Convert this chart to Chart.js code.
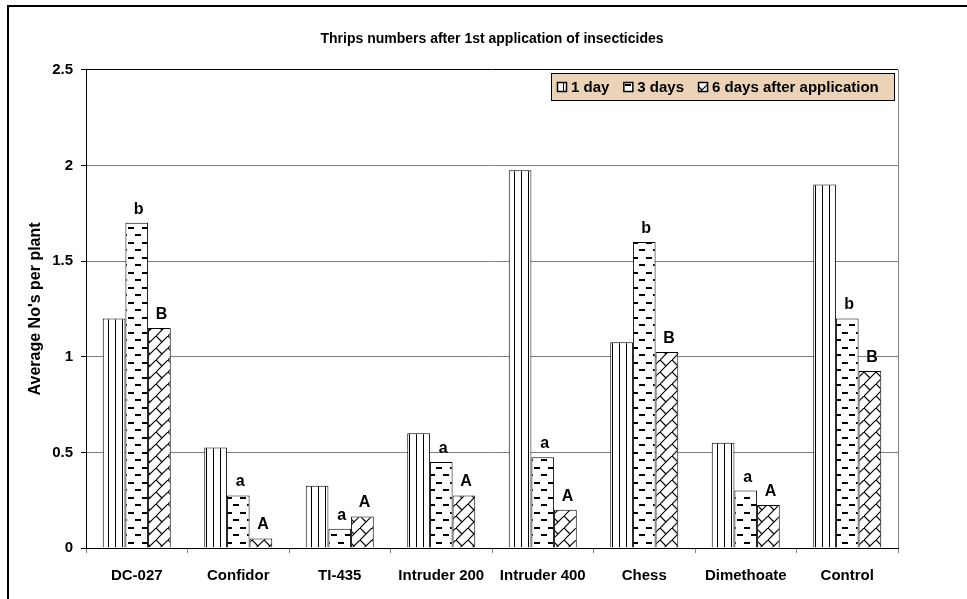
<!DOCTYPE html>
<html>
<head>
<meta charset="utf-8">
<title>Thrips numbers</title>
<script src="https://cdn.jsdelivr.net/npm/chart.js@4.4.1/dist/chart.umd.min.js"></script>
<style>
  html, body { margin: 0; padding: 0; background: #fff; }
  #wrap { position: relative; width: 967px; height: 599px; }
</style>
</head>
<body>
<div id="wrap"><canvas id="thripsChart"></canvas></div>
<script>
const treatments = ["DC-027", "Confidor", "TI-435", "Intruder 200", "Intruder 400", "Chess", "Dimethoate", "Control"];
const oneDay = [1.2, 0.525, 0.325, 0.6, 1.975, 1.075, 0.55, 1.9];
const threeDays = [1.7, 0.275, 0.1, 0.45, 0.475, 1.6, 0.3, 1.2];
const sixDays = [1.15, 0.05, 0.165, 0.275, 0.2, 1.025, 0.225, 0.925];
const threeDayLetters = ["b", "a", "a", "a", "a", "b", "a", "b"];
const sixDayLetters = ["B", "A", "A", "A", "A", "B", "A", "B"];
const seriesNames = ["1 day", "3 days", "6 days after application"];

const FONT = "'Liberation Sans', Arial, sans-serif";
const canvas = document.getElementById("thripsChart");

function makePattern(w, h, draw) {
  const c = document.createElement("canvas");
  c.width = w;
  c.height = h;
  const g = c.getContext("2d");
  g.fillStyle = "#fff";
  g.fillRect(0, 0, w, h);
  g.strokeStyle = "#000";
  g.fillStyle = "#000";
  draw(g);
  return canvas.getContext("2d").createPattern(c, "repeat");
}

// vertical stripes
const stripePattern = makePattern(7, 7, g => {
  g.fillRect(3, 0, 1, 7);
});

// short staggered dashes
const dashPattern = makePattern(14, 15, g => {
  g.fillRect(2, 2, 6, 2);
  g.fillRect(9, 9, 5, 2);
  g.fillRect(0, 9, 1, 2);
});

// diagonal brick
const brickPattern = makePattern(12, 12, g => {
  g.lineWidth = 1.2;
  g.beginPath();
  g.moveTo(-1, 13);
  g.lineTo(13, -1);
  g.moveTo(0, 0);
  g.lineTo(6, 6);
  g.stroke();
});

const patterns = [stripePattern, dashPattern, brickPattern];

const framePlugin = {
  id: "frame",
  beforeDraw(chart) {
    const ctx = chart.ctx;
    ctx.save();
    ctx.fillStyle = "#fff";
    ctx.fillRect(0, 0, chart.width, chart.height);
    ctx.strokeStyle = "#000";
    ctx.lineWidth = 2;
    ctx.beginPath();
    ctx.moveTo(8, chart.height);
    ctx.lineTo(8, 6);
    ctx.lineTo(chart.width, 6);
    ctx.stroke();
    ctx.restore();
  },
  afterDraw(chart) {
    const a = chart.chartArea;
    const ctx = chart.ctx;
    ctx.save();
    ctx.strokeStyle = "#808080";
    ctx.lineWidth = 1;
    ctx.beginPath();
    ctx.moveTo(Math.round(a.right) + 0.5, a.top);
    ctx.lineTo(Math.round(a.right) + 0.5, a.bottom);
    ctx.stroke();
    ctx.restore();
  }
};

const letterPlugin = {
  id: "letters",
  afterDatasetsDraw(chart) {
    const ctx = chart.ctx;
    ctx.save();
    ctx.font = "bold 16px " + FONT;
    ctx.fillStyle = "#000";
    ctx.textAlign = "center";
    ctx.textBaseline = "alphabetic";
    [[1, threeDayLetters], [2, sixDayLetters]].forEach(([idx, letters]) => {
      chart.getDatasetMeta(idx).data.forEach((bar, i) => {
        ctx.fillText(letters[i], bar.x + 2, bar.y - 9);
      });
    });
    ctx.restore();
  }
};

const boxLegendPlugin = {
  id: "boxLegend",
  afterDraw(chart) {
    const ctx = chart.ctx;
    ctx.save();
    ctx.fillStyle = "#EAD3B7";
    ctx.fillRect(551, 73, 344, 27);
    ctx.strokeStyle = "#000";
    ctx.lineWidth = 1;
    ctx.strokeRect(551.5, 73.5, 343, 27);
    ctx.font = "bold 15px " + FONT;
    ctx.textBaseline = "middle";
    let x = 557;
    chart.data.datasets.forEach(ds => {
      ctx.fillStyle = ds.backgroundColor;
      ctx.fillRect(x, 82, 10, 10);
      ctx.lineWidth = 1.5;
      ctx.strokeRect(x + 0.5, 82.5, 9, 9);
      ctx.fillStyle = "#000";
      ctx.fillText(ds.label, x + 14, 87.5);
      x += 14 + ctx.measureText(ds.label).width + 14;
    });
    ctx.restore();
  }
};

new Chart(canvas, {
  type: "bar",
  data: {
    labels: treatments,
    datasets: [oneDay, threeDays, sixDays].map((values, i) => ({
      label: seriesNames[i],
      data: values,
      backgroundColor: patterns[i],
      borderColor: "#000",
      borderWidth: 1,
      barPercentage: 1,
      categoryPercentage: 0.67,
    })),
  },
  options: {
    responsive: true,
    maintainAspectRatio: false,
    devicePixelRatio: 1,
    animation: false,
    layout: { padding: { left: 0, right: 69, top: 0, bottom: 0 } },
    plugins: {
      legend: { display: false },
      tooltip: { enabled: false },
      title: {
        display: true,
        fullSize: false,
        text: "Thrips numbers after 1st application of insecticides",
        color: "#000",
        font: { family: FONT, size: 14, weight: "bold" },
        padding: { top: 31, bottom: 22 },
      },
    },
    scales: {
      x: {
        grid: { offset: true, drawOnChartArea: false, tickLength: 5, tickColor: "#808080" },
        border: { color: "#000" },
        ticks: { color: "#000", font: { family: FONT, size: 15, weight: "bold" }, padding: 14, maxRotation: 0 },
        afterFit: s => { s.height = 51; },
      },
      y: {
        min: 0,
        max: 2.5,
        ticks: {
          stepSize: 0.5,
          color: "#000",
          font: { family: FONT, size: 15, weight: "bold" },
          padding: 8,
          callback: v => String(v),
        },
        grid: {
          color: c => (c.tick && c.tick.value === 2.5 ? "#000" : "#808080"),
          tickColor: "#000",
          tickLength: 5,
        },
        border: { color: "#000" },
        title: {
          display: true,
          text: "Average No's per plant",
          color: "#000",
          font: { family: FONT, size: 16, weight: "bold" },
          padding: { top: 26, bottom: 0 },
        },
        afterFit: s => { s.width = 86; },
      },
    },
  },
  plugins: [framePlugin, letterPlugin, boxLegendPlugin],
});
</script>
</body>
</html>
